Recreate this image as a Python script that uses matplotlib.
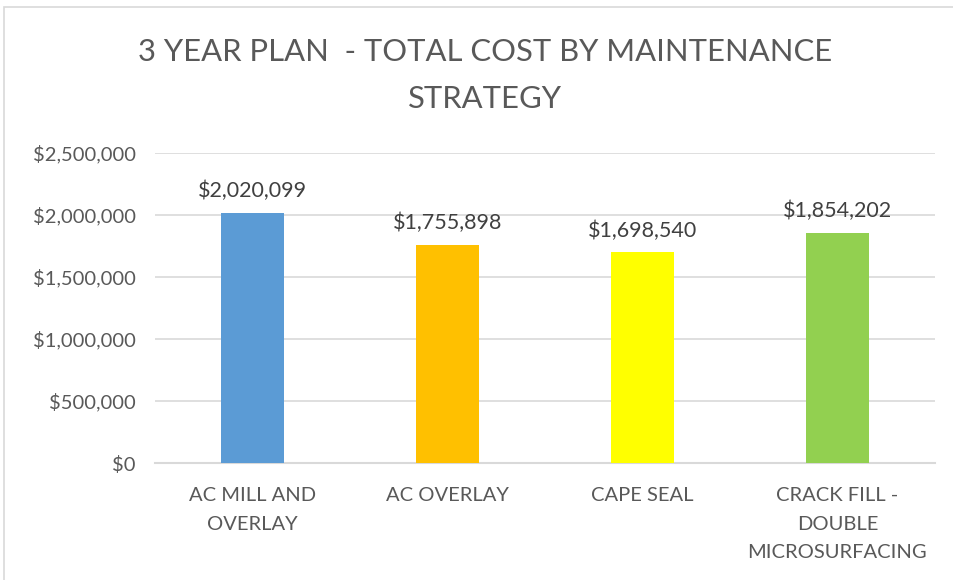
import matplotlib.pyplot as plt
from matplotlib.patches import Rectangle
from matplotlib.ticker import FuncFormatter

categories = ["AC MILL AND\nOVERLAY", "AC OVERLAY", "CAPE SEAL", "CRACK FILL -\nDOUBLE\nMICROSURFACING"]
costs = [2020099, 1755898, 1698540, 1854202]
colors = ["#5B9BD5", "#FFC000", "#FFFF00", "#92D050"]

plt.rcParams['font.family'] = ['Lato', 'DejaVu Sans']
text_color = "#595959"

fig = plt.figure(figsize=(9.54, 5.8), dpi=100)
ax = fig.add_axes([0.1625, 0.2017, 0.8175, 0.5345])

x = range(len(categories))
bars = ax.bar(x, costs, width=0.32, color=colors, zorder=3)

for xi, v in zip(x, costs):
    ax.text(xi, v + 95000, "${:,.0f}".format(v), ha="center", va="bottom",
            fontsize=15.5, color="#404040")

ax.set_xlim(-0.5, len(categories) - 0.5)
ax.set_ylim(0, 2500000)
ax.set_yticks(range(0, 2500001, 500000))
ax.yaxis.set_major_formatter(FuncFormatter(lambda v, p: "${:,.0f}".format(v)))
ax.set_xticks(list(x))
ax.set_xticklabels(categories, linespacing=1.85, va="top")
ax.tick_params(axis="both", length=0, labelsize=14.5, colors=text_color)
ax.tick_params(axis="y", pad=14)
ax.tick_params(axis="x", pad=17)
ax.grid(axis="y", color="#D9D9D9", linewidth=1.2, zorder=0)
for s in ["top", "right", "left"]:
    ax.spines[s].set_visible(False)
ax.spines["bottom"].set_color("#D9D9D9")
ax.spines["bottom"].set_linewidth(1.5)

fig.text(0.508, 0.91, "3 YEAR PLAN  - TOTAL COST BY MAINTENANCE", ha="center", va="center",
         fontsize=22.3, color=text_color)
fig.text(0.508, 0.829, "STRATEGY", ha="center", va="center", fontsize=22.3, color=text_color)

fig.patches.append(Rectangle((4 / 954, -0.1), 1.2, 1 - 7 / 580 + 0.1, transform=fig.transFigure,
                             fill=False, edgecolor="#D9D9D9", linewidth=1.2))

fig.savefig("out.png", dpi=100)
